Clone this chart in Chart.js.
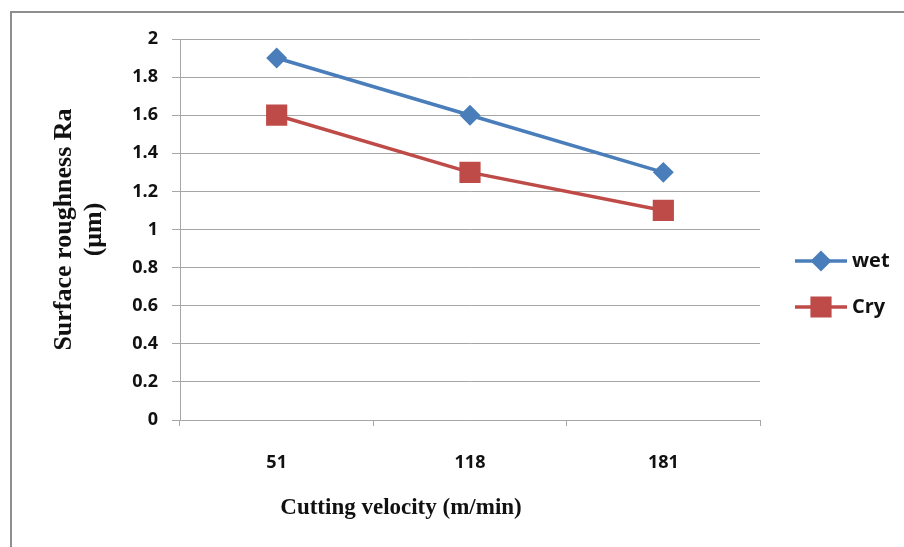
<!DOCTYPE html>
<html>
<head>
<meta charset="utf-8">
<script src="https://cdn.jsdelivr.net/npm/chart.js@4/dist/chart.umd.min.js"></script>
<style>
  html, body { margin: 0; padding: 0; background: #fff; overflow: hidden; }
  #wrap { position: relative; width: 904px; height: 547px; }
  #frame { position: absolute; left: 10px; top: 11px; width: 1000px; height: 600px;
           border-left: 2px solid #8e8e8e; border-top: 2px solid #8e8e8e; }
  canvas { position: absolute; left: 0; top: 0; }
</style>
</head>
<body>
<div id="wrap">
  <div id="frame"></div>
  <canvas id="chart" width="904" height="547"></canvas>
</div>
<script>
  // ── Data ──────────────────────────────────────────────────────────────────
  const velocities = ['51', '118', '181'];
  const wetValues  = [1.9, 1.6, 1.3];
  const dryValues  = [1.6, 1.3, 1.1];
  const seriesNames = ['wet', 'Cry'];

  const BLUE = '#4a7ebb';
  const RED  = '#be4b48';
  const GRID = '#a6a6a6';
  const TICK_FONT = { family: 'Open Sans', weight: 'bold', size: 18 };

  // legend (line + marker) and off-centre x-axis title
  const extrasPlugin = {
    id: 'extras',
    afterDraw(chart) {
      const ctx = chart.ctx;
      const items = [
        { name: seriesNames[0], color: BLUE, style: 'rectRot', r: 8,  y: 261 },
        { name: seriesNames[1], color: RED,  style: 'rect',    r: 12.5, y: 307 },
      ];
      ctx.save();
      items.forEach(it => {
        ctx.strokeStyle = it.color;
        ctx.lineWidth = 3.5;
        ctx.beginPath();
        ctx.moveTo(795, it.y);
        ctx.lineTo(847, it.y);
        ctx.stroke();
        ctx.fillStyle = it.color;
        Chart.helpers.drawPoint(ctx, { pointStyle: it.style, radius: it.r, borderWidth: 1 }, 821, it.y);
        ctx.fill();
        ctx.fillStyle = '#111';
        ctx.font = 'bold 20px "Open Sans"';
        ctx.textBaseline = 'middle';
        ctx.textAlign = 'left';
        ctx.fillText(it.name, 852, it.y);
      });
      ctx.font = 'bold 23px "Liberation Serif"';
      ctx.textAlign = 'center';
      ctx.textBaseline = 'middle';
      ctx.fillText('Cutting velocity (m/min)', 401, 508);
      ctx.restore();
    }
  };

  new Chart(document.getElementById('chart').getContext('2d'), {
    type: 'line',
    data: {
      labels: velocities,
      datasets: [
        {
          label: seriesNames[0],
          data: wetValues,
          borderColor: BLUE,
          backgroundColor: BLUE,
          pointBackgroundColor: BLUE,
          pointBorderColor: BLUE,
          pointStyle: 'rectRot',
          pointRadius: 8,
          borderWidth: 3.5,
          tension: 0,
        },
        {
          label: seriesNames[1],
          data: dryValues,
          borderColor: RED,
          backgroundColor: RED,
          pointBackgroundColor: RED,
          pointBorderColor: RED,
          pointStyle: 'rect',
          pointRadius: 12.5,
          borderWidth: 3.5,
          tension: 0,
        },
      ]
    },
    options: {
      responsive: false,
      animation: false,
      devicePixelRatio: 1,
      layout: { padding: { left: 49, top: 39, right: 144, bottom: 0 } },
      plugins: {
        legend: { display: false },
        tooltip: { enabled: false },
      },
      scales: {
        x: {
          offset: true,
          grid: { display: true, offset: true, drawOnChartArea: false, drawTicks: true,
                  tickLength: 6, color: GRID, lineWidth: 1 },
          border: { display: true, color: GRID, width: 1 },
          ticks: { color: '#111', font: TICK_FONT, padding: 26, maxRotation: 0 },
          afterFit: s => { s.height = 127; },
        },
        y: {
          min: 0,
          max: 2,
          grid: { color: GRID, lineWidth: 1, tickLength: 8 },
          border: { display: true, color: GRID, width: 1 },
          ticks: { stepSize: 0.2, color: '#111', font: TICK_FONT, padding: 14,
                   callback: v => +v.toFixed(1) },
          title: {
            display: true,
            text: ['Surface roughness Ra', '(μm)'],
            color: '#111',
            font: { family: 'Liberation Serif', weight: 'bold', size: 26, lineHeight: 1.15 },
            padding: { top: 0, bottom: 0 },
          },
          afterFit: s => { s.width = 131; },
        }
      }
    },
    plugins: [extrasPlugin]
  });
</script>
</body>
</html>
